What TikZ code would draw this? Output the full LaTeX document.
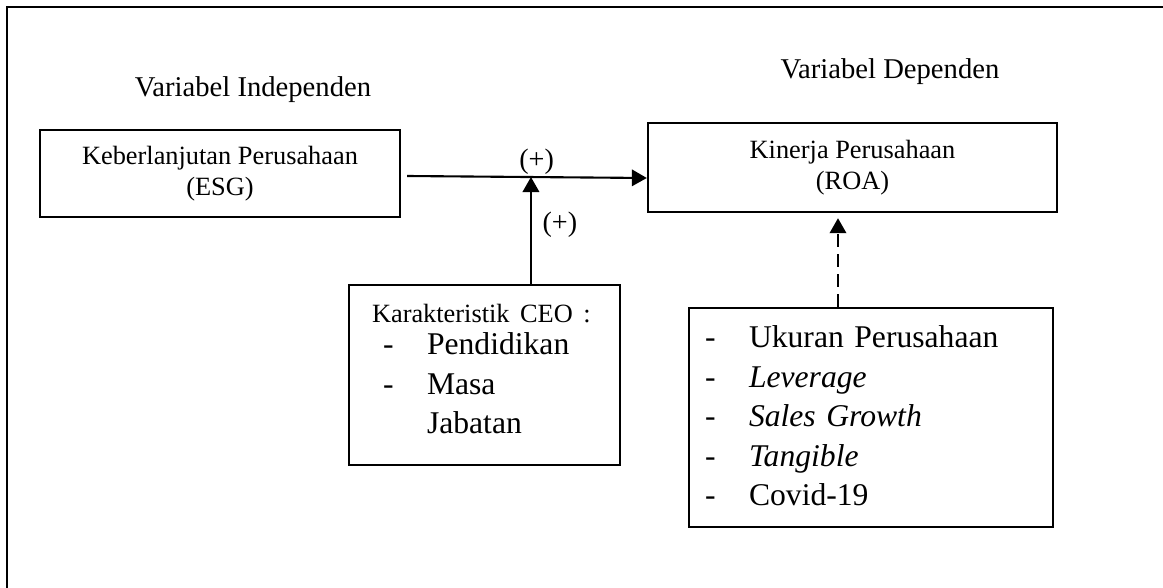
\documentclass[tikz,border=0pt]{standalone}
\usepackage{fontspec}
\setmainfont{Liberation Serif}
\usetikzlibrary{arrows.meta,calc,positioning}
\tikzset{
  varbox/.style={
    draw, line width=1.4pt, align=center,
    font=\fontsize{15}{18}\selectfont
  },
  listbox/.style={
    draw, line width=1.4pt, align=left,
    font=\fontsize{18}{22.5}\selectfont
  },
  heading/.style={font=\fontsize{16.3}{19}\selectfont},
  sign/.style={font=\fontsize{16}{19}\selectfont, inner sep=1pt},
  flow/.style={-{Triangle[length=0.3cm,width=0.33cm]}, line width=1.2pt},
  dashflow/.style={flow, dash pattern=on 0.26cm off 0.14cm}
}
\newcommand{\li}[1]{\mbox{\makebox[0.88cm][l]{-}#1}}

\begin{document}
\begin{tikzpicture}[x=0.02cm, y=-0.02cm]
    \useasboundingbox (0,0) rectangle (1163,588);
    \draw[line width=1.2pt] (7,588) -- (7,7) -- (1163,7);
    \node[heading] (indep) at (253,90) {Variabel Independen};
    \node[heading] (dep) at (890,72) {Variabel Dependen};
    \node[varbox,minimum width=7.2cm,minimum height=1.74cm] (esg) at (220,173.5) {Keberlanjutan Perusahaan\\(ESG)};
    \node[varbox,minimum width=8.18cm,minimum height=1.78cm] (roa) at (852.5,167.5) {Kinerja Perusahaan\\(ROA)};
    \node[listbox,text width=4.5cm,inner xsep=0.46cm,minimum height=3.6cm] (ceo) at (484.5,375)
      {\mbox{\fontsize{15}{18}\selectfont Karakteristik CEO :}\\[-4pt]
       \hspace*{0.22cm}\li{Pendidikan}\\
       \hspace*{0.22cm}\li{Masa}\\
       \hspace*{1.1cm}\mbox{Jabatan}\vspace*{7pt}};
    \node[listbox,text width=6.64cm,inner xsep=0.32cm,minimum height=4.38cm] (ctrl) at (871,417.5)
      {\li{Ukuran Perusahaan}\\
       \li{\textit{Leverage}}\\
       \li{\textit{Sales Growth}}\\
       \li{\textit{Tangible}}\\
       \li{Covid-19}\vspace*{2pt}};
    \draw[flow] ($(esg.east)+(6,2.5)$) -- coordinate[pos=0.5165] (hit) node[sign,above,pos=0.54] {(+)} ($(roa.west)+(0,10.5)$);
    \draw[flow] (ceo.north -| hit) -- node[sign,right,pos=0.55,xshift=5pt] {(+)} (hit);
    \draw[dashflow] ($(ctrl.north)+(-33,0)$) -- ($(roa.south)+(-14.5,5)$);
\end{tikzpicture}
\end{document}
